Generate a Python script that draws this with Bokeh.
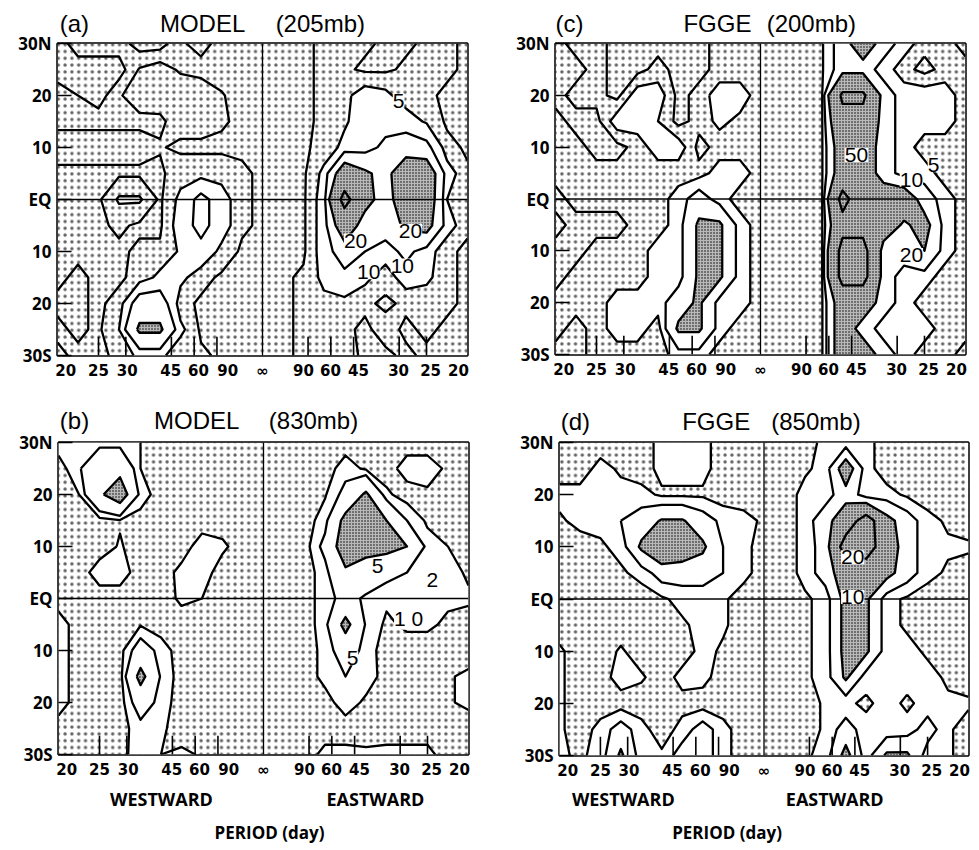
import numpy as np
from bokeh.plotting import figure
from bokeh.layouts import row, column
from bokeh.models import FixedTicker, Span, Label, LinearAxis
from bokeh.embed import file_html
from bokeh.resources import INLINE

# ---------------- axes ----------------
FREQ = [-0.050, -0.045, -0.040, -0.035, -0.030, -0.025, -0.020, -0.015, -0.010, -0.005,
        0.000, 0.005, 0.010, 0.015, 0.020, 0.025, 0.030, 0.035, 0.040, 0.045, 0.050]
LAT = [30, 25, 20, 15, 10, 5, 0, -5, -10, -15, -20, -25, -30]

TICK_POS = [-0.048, -0.040, -0.033, -0.0224, -0.0156, -0.0085, 0.0,
            0.0100, 0.0166, 0.0234, 0.0332, 0.0410, 0.0478]
TICK_LABELS = ["20", "25", "30", "45", "60", "90", "∞", "90", "60", "45", "30", "25", "20"]
INNER_TICK_PERIODS = [-25, -30, -45, -60, -90, 90, 60, 45, 30, 25]
LAT_TICKS = [30, 20, 10, 0, -10, -20, -30]
LAT_LABELS = ["30N", "20", "10", "EQ", "10", "20", "30S"]

# ---------------- panel (a) MODEL 205mb ----------------
A_TITLE = ["(a)", "MODEL", "(205mb)"]
A_TITLE_X = [-0.0459, -0.0146, 0.0141]
A_LEVELS = [1, 2, 5, 10, 20, 50]
A_GRID = [
    [0.5, 1.5, 1.5, 1.5, 0.5, 0.5, 1.8, 2.5, 1.5, 1.5, 1.5, 1.5, 1.5, 2.5, 2.5, 2.5, 1.5, 1.5, 2.5, 2.5, 1.5],
    [0.5, 0.5, 0.5, 0.5, 2.1, 2.6, 1.8, 1.5, 1.5, 1.5, 1.5, 1.5, 1.5, 2.5, 2.5, 1.5, 1.5, 2.5, 2.5, 2.5, 1.5],
    [1.5, 1.0, 0.5, 1.8, 3, 3, 3, 3, 2.1, 1.5, 1.5, 1.5, 1.5, 2.5, 4, 7, 6, 3, 2.5, 1.5, 1.5],
    [1.5, 1.5, 1.5, 1.5, 1.5, 1.6, 3, 3, 2.3, 1.5, 1.5, 1.5, 1.5, 2.5, 4.5, 7, 7, 7, 4.5, 1.5, 1.5],
    [3, 3, 3, 3, 3, 2.2, 1.5, 1.5, 1.5, 1.5, 1.5, 1.5, 1.5, 3, 6, 7, 12, 14, 12, 3, 1.5],
    [1.5, 1.5, 1.5, 1.5, 1.5, 1.5, 3.5, 3.5, 3.5, 2.5, 1.5, 1.5, 1.5, 6, 30, 22, 16, 30, 30, 7, 2.5],
    [1.5, 1.5, 1.5, 5.5, 5.5, 1.5, 6, 12, 7, 2.5, 1.5, 1.5, 1.5, 7, 60, 25, 14, 30, 30, 5, 2.5],
    [1.5, 1.5, 1.5, 2.5, 1.5, 1.5, 7, 12, 7, 2.5, 1.5, 1.5, 1.5, 7, 30, 14, 14, 22, 25, 7, 2.5],
    [1.5, 1.5, 1.5, 1.5, 2.5, 2.5, 5.5, 8, 4, 1.5, 1.5, 1.5, 1.5, 7, 14, 10, 7, 12, 7, 2.5, 1.5],
    [1.5, 2.5, 1.5, 1.5, 3, 6, 6, 3, 1.5, 1.5, 1.5, 1.5, 2.5, 6, 8, 6, 3, 7, 6, 2.5, 1.5],
    [2.5, 2.5, 1.5, 3, 14, 14, 3, 1.5, 1.5, 1.5, 1.5, 1.5, 2.5, 4, 4, 2.5, 1.5, 2.5, 2.5, 2.5, 1.5],
    [1.5, 2.5, 1.5, 5, 22, 22, 6, 1.5, 1.5, 1.5, 1.5, 1.5, 2.5, 3, 2.5, 1.5, 3, 1.5, 2.5, 1.5, 1.5],
    [2.5, 1.5, 1.5, 2.5, 6, 6, 2.5, 2.5, 1.5, 1.5, 1.5, 1.5, 2.5, 3, 3, 1.5, 1.5, 2.5, 1.5, 1.5, 1.5],
]
A_STIPPLE_BELOW = 5
A_DENSE_ABOVE = 20
A_LABEL_X = [0.0332, 0.0227, 0.0259, 0.0361, 0.0341]
A_LABEL_Y = [19.0, -7.9, -14.0, -6.0, -12.7]
A_LABEL_T = ["5", "20", "10", "20", "10"]

# ---------------- panel (b) MODEL 830mb ----------------
B_TITLE = ["(b)", "MODEL", "(830mb)"]
B_TITLE_X = [-0.0461, -0.0163, 0.0122]
B_LEVELS = [1, 2, 5, 10]
B_GRID = [
    [1.5, 1.5, 1.5, 1.5, 1.0, 0.5, 0.5, 0.5, 0.5, 0.5, 0.5, 0.5, 0.5, 0.5, 0.5, 0.5, 0.5, 0.5, 0.5, 0.5, 0.5],
    [0.5, 1.8, 4, 4, 1.0, 0.5, 0.5, 0.5, 0.5, 0.5, 0.5, 0.5, 0.5, 0.5, 1.5, 0.8, 0.5, 1.5, 1.5, 0.8, 0.5],
    [0.5, 1.0, 4.5, 7, 1.5, 0.5, 0.5, 0.5, 0.5, 0.5, 0.5, 0.5, 0.5, 0.9, 2.5, 5.5, 1.2, 0.5, 0.8, 1.0, 0.5],
    [0.5, 0.5, 0.6, 0.9, 0.6, 0.5, 0.5, 0.5, 0.5, 0.5, 0.5, 0.5, 0.5, 1.5, 6, 7, 5, 2, 0.8, 0.5, 0.5],
    [0.5, 0.5, 0.5, 1.1, 0.5, 0.5, 0.5, 1.5, 1.2, 0.5, 0.5, 0.5, 0.5, 2.5, 7, 6.5, 6, 5, 1.5, 1.0, 0.5],
    [0.5, 0.5, 1.5, 1.5, 0.5, 0.5, 1.3, 1.5, 0.5, 0.5, 0.5, 0.5, 0.5, 1.5, 4.5, 3, 2.5, 2, 1.8, 1.5, 0.8],
    [0.5, 0.5, 0.5, 0.5, 0.5, 0.5, 1.2, 1.0, 0.5, 0.5, 0.5, 0.5, 0.5, 1.5, 2.5, 1.8, 1.2, 1.5, 1.5, 1.2, 1.2],
    [1.5, 0.5, 0.5, 0.5, 0.9, 0.5, 0.5, 0.5, 0.5, 0.5, 0.5, 0.5, 0.5, 1.5, 6, 1.8, 0.8, 1.2, 1.2, 0.8, 0.5],
    [1.5, 0.5, 0.5, 0.6, 3, 1.5, 0.5, 0.5, 0.5, 0.5, 0.5, 0.5, 0.5, 1.3, 3, 1.5, 0.5, 0.5, 0.5, 0.5, 0.5],
    [1.5, 0.5, 0.5, 0.5, 6, 1.8, 0.5, 0.5, 0.5, 0.5, 0.5, 0.5, 0.5, 1.3, 2, 1.5, 0.6, 0.5, 0.5, 0.9, 1.2],
    [1.5, 0.5, 0.5, 0.5, 3, 1.5, 0.5, 0.5, 0.5, 0.5, 0.5, 0.5, 0.5, 0.6, 1.5, 0.8, 0.5, 0.5, 0.5, 0.9, 1.2],
    [0.5, 0.5, 0.5, 0.6, 1.5, 1.2, 0.5, 0.5, 0.5, 0.5, 0.5, 0.5, 0.5, 0.5, 0.5, 0.5, 0.5, 0.5, 0.5, 0.5, 0.5],
    [0.5, 0.5, 0.5, 0.8, 1.3, 1.0, 1.2, 0.9, 0.5, 0.5, 0.5, 0.5, 0.5, 1.3, 1.3, 1.2, 1.3, 1.3, 1.3, 0.5, 0.5],
]
B_STIPPLE_BELOW = 1
B_DENSE_ABOVE = 5
B_LABEL_X = [0.0278, 0.0412, 0.0354, 0.0217]
B_LABEL_Y = [6.3, 3.5, -3.8, -11.5]
B_LABEL_T = ["5", "2", "1 0", "5"]

# ---------------- panel (c) FGGE 200mb ----------------
C_TITLE = ["(c)", "FGGE", "(200mb)"]
C_TITLE_X = [-0.0466, -0.0105, 0.0124]
C_LEVELS = [2, 5, 10, 20, 50, 100]
C_GRID = [
    [1, 3, 3, 1, 1, 1, 1, 1, 3, 3, 3, 3, 3, 4.5, 14, 30, 14, 7, 3, 3, 1],
    [1, 1, 3, 1, 1, 3, 1, 1, 3, 3, 3, 3, 3, 4.5, 14, 14, 7, 3, 1, 3, 3],
    [1, 3, 3, 1, 7, 7, 1, 3, 7, 7, 3, 3, 3, 4.5, 55, 55, 14, 7, 7, 7, 3],
    [3, 1, 1, 7, 7, 5, 1, 3, 6, 4, 3, 3, 3, 4.5, 40, 40, 14, 7, 7, 7, 3],
    [3, 3, 1, 1, 3, 7, 7, 1, 3, 3, 3, 3, 3, 4.5, 30, 30, 14, 7, 3, 3, 3],
    [3, 3, 3, 3, 3, 3, 3, 3, 7, 7, 3, 3, 3, 4.5, 30, 30, 14, 7, 7, 3, 3],
    [1, 3, 3, 3, 3, 3, 7, 14, 7, 3, 3, 3, 3, 4.5, 60, 30, 30, 30, 14, 7, 3],
    [3, 1, 1, 1, 3, 3, 7, 22, 22, 7, 3, 3, 3, 4.5, 40, 40, 30, 18, 25, 7, 3],
    [1, 1, 3, 3, 3, 7, 7, 22, 22, 7, 3, 3, 3, 4.5, 60, 60, 14, 14, 20, 7, 3],
    [1, 3, 3, 3, 3, 7, 7, 22, 22, 7, 3, 3, 3, 4.5, 60, 60, 14, 7, 7, 3, 3],
    [3, 3, 3, 7, 7, 7, 15, 22, 7, 7, 3, 3, 3, 4.5, 30, 30, 14, 7, 3, 3, 3],
    [3, 1, 3, 7, 7, 3, 22, 22, 7, 3, 3, 3, 3, 4.5, 30, 14, 7, 7, 7, 3, 3],
    [1, 1, 3, 3, 3, 3, 7, 7, 3, 3, 3, 3, 3, 4.5, 30, 30, 14, 7, 3, 3, 1],
]
C_STIPPLE_BELOW = 5
C_DENSE_ABOVE = 20
C_LABEL_X = [0.0234, 0.0368, 0.0422, 0.0368]
C_LABEL_Y = [8.5, 3.7, 6.5, -10.8]
C_LABEL_T = ["50", "10", "5", "20"]

# ---------------- panel (d) FGGE 850mb ----------------
D_TITLE = ["(d)", "FGGE", "(850mb)"]
D_TITLE_X = [-0.0461, -0.0117, 0.0127]
D_LEVELS = [2, 5, 10, 20]
D_GRID = [
    [0.5, 0.5, 0.5, 0.5, 0.5, 3, 3, 3, 0.5, 0.5, 0.5, 0.5, 0.5, 3, 3, 3, 0.5, 0.5, 0.5, 0.5, 0.5],
    [0.5, 0.5, 3, 1.5, 0.5, 3, 3, 3, 0.5, 0.5, 0.5, 0.5, 1.5, 3, 14, 3, 0.5, 0.5, 0.5, 0.5, 0.5],
    [3, 3, 3, 3, 3, 1.5, 1.5, 1.5, 0.5, 0.5, 0.5, 0.5, 3, 3, 8, 3, 3, 1.5, 0.5, 0.5, 0.5],
    [1.5, 3, 3, 5, 7, 10.5, 10.5, 7, 4, 3, 1.5, 0.5, 3, 8, 14, 25, 12, 7, 3, 1.5, 0.5],
    [0.5, 0.5, 1.5, 3, 11, 16, 14, 11, 5, 3, 0.5, 0.5, 3, 7, 25, 25, 14, 7, 3, 2.5, 2.5],
    [0.5, 0.5, 0.5, 1.5, 3, 7, 7, 7, 5, 3, 0.5, 0.5, 3, 7, 14, 14, 12, 7, 3, 1.5, 0.5],
    [0.5, 0.5, 0.5, 0.5, 0.5, 1.5, 3, 3, 2.5, 0.5, 0.5, 0.5, 1.5, 3, 12, 11, 3, 1.5, 0.5, 0.5, 0.5],
    [0.5, 0.5, 0.5, 0.5, 0.5, 0.5, 1.5, 3, 2.5, 0.5, 0.5, 0.5, 1.5, 3, 12, 11, 3, 1.5, 0.5, 0.5, 0.5],
    [2.5, 0.5, 0.5, 2.4, 0.5, 0.5, 0.5, 3, 1.5, 0.5, 0.5, 0.5, 1.5, 3, 12, 11, 3, 3, 1.5, 0.5, 0.5],
    [2.5, 0.5, 0.5, 3.5, 2.4, 0.5, 3, 3, 0.5, 0.5, 0.5, 0.5, 1.5, 3, 11, 3, 3, 3, 3, 1.5, 0.5],
    [2.5, 0.5, 0.5, 0.5, 0.5, 0.5, 1.0, 0.5, 0.5, 0.5, 0.5, 0.5, 0.5, 2.5, 2.5, 1.5, 3, 1.5, 3, 2.5, 2.5],
    [2.5, 0.5, 3, 7, 3, 0.5, 3, 7, 3, 0.5, 0.5, 0.5, 0.5, 2.5, 7, 3, 2.5, 3, 7, 2.5, 0.5],
    [2.5, 1.5, 3, 11, 3, 2.5, 7, 7, 3, 0.5, 0.5, 0.5, 1.5, 3, 12, 3, 11, 11, 3, 2.5, 0.5],
]
D_STIPPLE_BELOW = 2
D_DENSE_ABOVE = 10
D_LABEL_X = [0.0217, 0.0217]
D_LABEL_Y = [8.0, 0.4]
D_LABEL_T = ["20", "10"]

# bottom texts of the lower row: (x of WESTWARD, x of EASTWARD, x of PERIOD)
B_BOTTOM_X = [-0.0249, 0.0273, 0.0020]
D_BOTTOM_X = [-0.0344, 0.0173, -0.0085]
BOTTOM_TEXT = ["WESTWARD", "EASTWARD", "PERIOD  (day)"]

BOLD_FONT = "Open Sans"
TICK_FONT = "DejaVu Sans"
TITLE_FONT = "Liberation Sans"


def text_axis(ticks, texts, standoff, font, size, style):
    ax = LinearAxis(ticker=FixedTicker(ticks=ticks),
                    major_label_overrides={t: s for t, s in zip(ticks, texts)},
                    major_tick_in=0, major_tick_out=0, minor_tick_in=0, minor_tick_out=0,
                    axis_line_color=None, major_label_standoff=standoff,
                    major_label_text_font=font, major_label_text_font_size=size,
                    major_label_text_font_style=style, major_label_text_color="black")
    return ax


def make_panel(grid, levels, stip_below, dense_above, lab_x, lab_y, lab_t,
               title_x, title_t, geom, bottom=None):
    fw, fh, mbl, mbr, mbt, mbb, t_off = geom
    p = figure(frame_width=fw, frame_height=fh,
               min_border_left=mbl, min_border_right=mbr, min_border_top=mbt,
               min_border_bottom=mbb, x_range=(FREQ[0], FREQ[-1]), y_range=(LAT[-1], LAT[0]),
               output_backend="svg", toolbar_location=None, background_fill_color="white",
               border_fill_color="white", outline_line_color="black", outline_line_width=2.5)
    p.grid.visible = False

    # light stipple everywhere (lowest bands)
    p.quad(left=[FREQ[0]], right=[FREQ[-1]], bottom=[LAT[-1]], top=[LAT[0]],
           fill_color="white", line_color=None, hatch_pattern=".", hatch_scale=6.8,
           hatch_color="black", hatch_alpha=0.62, hatch_weight=0.4)

    z = np.array(grid, dtype=float)
    x = np.array(FREQ)
    y = np.array(LAT)
    full = ([min(float(z.min()), levels[0]) - 1.0] + list(levels)
            + [max(float(z.max()), levels[-1]) + 1.0])
    fills, alphas, hatches = [], [], []
    for k in range(len(full) - 1):
        lo, hi = full[k], full[k + 1]
        if hi <= stip_below:
            fills.append("white"); alphas.append(0.0); hatches.append(" ")
        elif lo >= dense_above:
            fills.append("#b9b9b9"); alphas.append(1.0); hatches.append(".")
        else:
            fills.append("white"); alphas.append(1.0); hatches.append(" ")
    p.contour(x, y, z, full, fill_color=fills, fill_alpha=alphas, hatch_pattern=hatches,
              hatch_color="black", hatch_scale=3.0, hatch_weight=0.9, hatch_alpha=1.0,
              line_color="black", line_width=2.3, line_join="round")

    p.add_layout(Span(location=0, dimension="height", line_color="black", line_width=1.3))
    p.add_layout(Span(location=0, dimension="width", line_color="black", line_width=1.3))

    inner = [1.0 / d for d in INNER_TICK_PERIODS]
    p.segment(x0=inner, y0=[LAT[-1]] * len(inner), x1=inner, y1=[LAT[-1] + 3.6] * len(inner),
              line_color="black", line_width=1.6)

    for lx, ly, lt in zip(lab_x, lab_y, lab_t):
        p.add_layout(Label(x=lx, y=ly, text=lt, text_font=TITLE_FONT, text_font_size="21px",
                           text_color="black", text_align="center", text_baseline="middle",
                           background_fill_color="white", background_fill_alpha=1.0))

    # x axis
    p.xaxis.ticker = FixedTicker(ticks=TICK_POS)
    p.xaxis.major_label_overrides = {t: s for t, s in zip(TICK_POS, TICK_LABELS)}
    p.xaxis.major_tick_out = 0
    p.xaxis.major_tick_in = 0
    p.xaxis.minor_tick_out = 0
    p.xaxis.minor_tick_in = 0
    p.xaxis.axis_line_color = None
    p.xaxis.major_label_standoff = 6
    p.xaxis.major_label_text_font = TICK_FONT
    p.xaxis.major_label_text_font_style = "bold"
    p.xaxis.major_label_text_font_size = "15px"
    p.xaxis.major_label_text_color = "black"
    # y axis
    p.yaxis.ticker = FixedTicker(ticks=LAT_TICKS)
    p.yaxis.major_label_overrides = {t: s for t, s in zip(LAT_TICKS, LAT_LABELS)}
    p.yaxis.major_tick_out = 0
    p.yaxis.major_tick_in = 14
    p.yaxis.major_tick_line_width = 1.6
    p.yaxis.minor_tick_out = 0
    p.yaxis.minor_tick_in = 0
    p.yaxis.axis_line_color = None
    p.yaxis.major_label_standoff = 6
    p.yaxis.major_label_text_font = BOLD_FONT
    p.yaxis.major_label_text_font_style = "bold"
    p.yaxis.major_label_text_font_size = "17px"
    p.yaxis.major_label_text_color = "black"

    # title row as an axis above the frame
    p.add_layout(text_axis(title_x, title_t, t_off, TITLE_FONT, "24px", "normal"), "above")
    if bottom:
        bx, s2, s3 = bottom
        p.add_layout(text_axis(bx[:2], BOTTOM_TEXT[:2], s2, BOLD_FONT, "18px", "bold"), "below")
        p.add_layout(text_axis(bx[2:], BOTTOM_TEXT[2:], s3, BOLD_FONT, "17px", "bold"), "below")
    return p


pa = make_panel(A_GRID, A_LEVELS, A_STIPPLE_BELOW, A_DENSE_ABOVE, A_LABEL_X, A_LABEL_Y, A_LABEL_T,
                A_TITLE_X, A_TITLE, (410, 312, 57, 23, 43, 35, 7))
pc = make_panel(C_GRID, C_LEVELS, C_STIPPLE_BELOW, C_DENSE_ABOVE, C_LABEL_X, C_LABEL_Y, C_LABEL_T,
                C_TITLE_X, C_TITLE, (410, 311, 65, 14, 43, 36, 7))
pb = make_panel(B_GRID, B_LEVELS, B_STIPPLE_BELOW, B_DENSE_ABOVE, B_LABEL_X, B_LABEL_Y, B_LABEL_T,
                B_TITLE_X, B_TITLE, (410, 312, 58, 22, 52, 94, 9), bottom=(B_BOTTOM_X, 5, 7))
pd_ = make_panel(D_GRID, D_LEVELS, D_STIPPLE_BELOW, D_DENSE_ABOVE, D_LABEL_X, D_LABEL_Y, D_LABEL_T,
                 D_TITLE_X, D_TITLE, (409, 313, 69, 11, 49, 94, 8), bottom=(D_BOTTOM_X, 4, 7))

layout = column(row(pa, pc, spacing=0), row(pb, pd_, spacing=0), spacing=0)
open("out.html", "w").write(file_html(layout, INLINE))
